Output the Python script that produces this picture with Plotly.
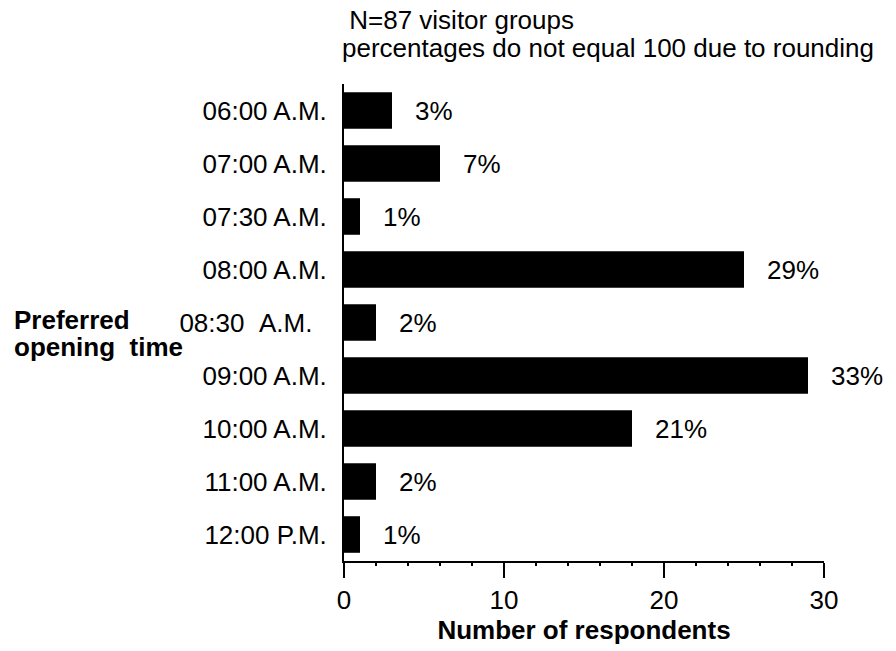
import plotly.graph_objects as go

categories = ["06:00 A.M.", "07:00 A.M.", "07:30 A.M.", "08:00 A.M.", "08:30 A.M.",
              "09:00 A.M.", "10:00 A.M.", "11:00 A.M.", "12:00 P.M."]
tick_labels = ["06:00 A.M.", "07:00 A.M.", "07:30 A.M.", "08:00 A.M.",
               "08:30\u00a0\u00a0A.M.\u00a0\u00a0", "09:00 A.M.", "10:00 A.M.", "11:00 A.M.", "12:00 P.M."]
counts = [3, 6, 1, 25, 2, 29, 18, 2, 1]
pct_labels = ["3%", "7%", "1%", "29%", "2%", "33%", "21%", "2%", "1%"]
x_ticks = [0, 10, 20, 30]

FONT = "Liberation Sans, Arial, Helvetica, sans-serif"
FS = 26

fig = go.Figure()
fig.add_trace(go.Bar(
    x=counts, y=categories, orientation="h",
    marker=dict(color="black", line=dict(width=0)),
    hoverinfo="skip",
))

for c, v, t in zip(categories, counts, pct_labels):
    fig.add_annotation(x=v, y=c, xref="x", yref="y", text=t, showarrow=False,
                       xanchor="left", yanchor="middle", xshift=21,
                       font=dict(family=FONT, size=FS, color="black"))

fig.add_annotation(x=0, y=1.134, xref="paper", yref="paper", text="\u00a0N=87 visitor groups",
                   showarrow=False, xanchor="left", yanchor="middle", xshift=-3, borderpad=0,
                   font=dict(family=FONT, size=FS, color="black"))
fig.add_annotation(x=0, y=1.0745, xref="paper", yref="paper",
                   text="percentages do not equal 100 due to rounding",
                   showarrow=False, xanchor="left", yanchor="middle", xshift=-3, borderpad=0,
                   font=dict(family=FONT, size=FS, color="black"))
fig.add_annotation(x=-0.692, y=0.506, xref="paper", yref="paper",
                   text="<b>Preferred</b>",
                   showarrow=False, xanchor="left", yanchor="middle", align="left",
                   font=dict(family=FONT, size=FS, color="black"))
fig.add_annotation(x=-0.692, y=0.448, xref="paper", yref="paper",
                   text="<b>opening\u00a0\u00a0time</b>",
                   showarrow=False, xanchor="left", yanchor="middle", align="left",
                   font=dict(family=FONT, size=FS, color="black"))

fig.update_layout(
    width=888, height=643,
    margin=dict(l=336, r=72, t=76, b=87),
    paper_bgcolor="white", plot_bgcolor="white",
    showlegend=False,
    bargap=0.31,
    font=dict(family=FONT, size=FS, color="black"),
    xaxis=dict(
        range=[0, 30], tickvals=x_ticks, ticktext=[str(v) for v in x_ticks],
        showgrid=False, zeroline=False,
        showline=True, linecolor="black", linewidth=2,
        ticks="outside", ticklen=15, tickwidth=2, tickcolor="black",
        minor=dict(dtick=2, ticks="outside", ticklen=3, tickwidth=2, tickcolor="black", showgrid=False),
        tickfont=dict(family=FONT, size=FS, color="black"),
        title=dict(text="<b>Number of respondents</b>", font=dict(family=FONT, size=FS, color="black"), standoff=6),
        fixedrange=True,
    ),
    yaxis=dict(
        range=[8.5, -0.5], type="category",
        tickvals=categories, ticktext=tick_labels,
        showgrid=False, zeroline=False,
        showline=True, linecolor="black", linewidth=2,
        ticks="", ticklabelstandoff=10,
        tickfont=dict(family=FONT, size=FS, color="black"),
        fixedrange=True,
    ),
)

fig.write_html("out.html")
